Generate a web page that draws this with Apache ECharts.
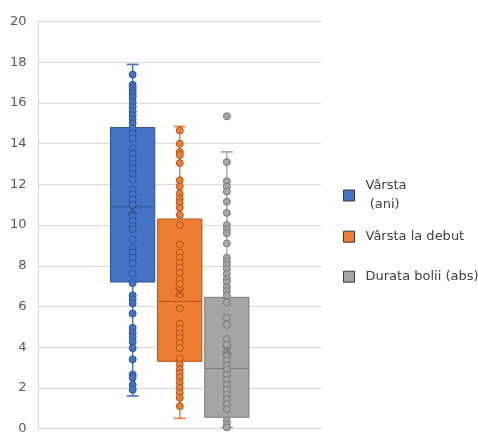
<!DOCTYPE html>
<html><head><meta charset="utf-8">
<script src="https://cdn.jsdelivr.net/npm/echarts@6/dist/echarts.min.js"></script>
<style>html,body{margin:0;padding:0;background:#fff}#c{width:478px;height:435px}</style>
</head><body><div id="c"></div>
<script>
// ---- data ----
const seriesNames = ['Vârsta\n (ani)', 'Vârsta la debut', 'Durata bolii (abs)'];
const yTicks = [0, 2, 4, 6, 8, 10, 12, 14, 16, 18, 20];

const pointsVarsta = [17.4, 16.9, 16.75, 16.6, 16.45, 16.3, 16.05, 15.8, 15.6, 15.4, 15.2, 15.0,
  14.75, 14.5, 14.25, 13.75, 13.5, 13.25, 13.0, 12.8, 12.5, 12.25, 11.75, 11.5, 11.25, 11.0,
  10.45, 10.2, 9.95, 9.8, 9.3, 8.9, 8.65, 8.4, 8.1, 7.6,
  7.15, 6.55, 6.35, 6.15, 5.65, 4.95, 4.7, 4.5, 4.25, 3.95, 3.4, 2.65, 2.5, 2.15, 1.9];
const pointsDebut = [14.65, 14.0, 13.6, 13.45, 13.05, 12.2, 11.9, 11.55, 11.3, 11.1, 10.85, 10.5,
  10.0, 9.05, 8.65, 8.4, 8.15, 7.9, 7.65, 7.35, 7.1, 6.6, 5.9, 5.15, 4.9, 4.65, 4.45, 4.2, 3.95, 3.45,
  3.15, 2.9, 2.7, 2.5, 2.25, 2.0, 1.75, 1.5, 1.1];
const pointsDurata = [15.35, 13.1, 12.15, 11.9, 11.65, 11.15, 10.6, 10.0, 9.8, 9.6, 9.1, 8.4, 8.2,
  8.05, 7.85, 7.6, 7.35, 7.2, 6.95, 6.75, 6.55,
  6.2, 5.45, 5.1, 4.4, 4.1, 3.8, 3.55, 3.35, 3.1, 2.9, 2.65, 2.4, 2.15, 1.9, 1.65, 1.45, 1.2, 0.95,
  0.4, 0.2, 0.05];

const boxMin    = [1.6, 0.5, 0.05];
const boxQ1     = [7.2, 3.3, 0.55];
const boxMedian = [10.9, 6.25, 2.95];
const boxQ3     = [14.8, 10.3, 6.45];
const boxMax    = [17.9, 14.85, 13.6];
const boxMean   = [10.75, 6.7, 3.85];

// ---- styles ----
const colors = ['#4472c4', '#ed7d31', '#a5a5a5'];
const darks  = ['#2f5597', '#b4561c', '#7b7b7b'];
const BOX_W = 0.94;   // in category units
const CAP_W = 12;     // px
const FIRST_POS = 2;  // category index of first box on hidden x axis

const allPoints = [pointsVarsta, pointsDebut, pointsDurata];

const boxData = seriesNames.map((n, i) => [FIRST_POS + i, boxMin[i], boxQ1[i], boxMedian[i], boxQ3[i], boxMax[i], boxMean[i]]);

const chart = echarts.init(document.getElementById('c'), null, {renderer: 'canvas'});

const scatterSeries = allPoints.map((pts, i) => ({
  name: seriesNames[i],
  type: 'scatter',
  z: 5,
  symbol: 'circle',
  symbolSize: 7,
  itemStyle: {color: colors[i], borderColor: darks[i], borderWidth: 1, opacity: 1},
  emphasis: {disabled: true},
  data: pts.map(v => [FIRST_POS + i, v])
}));

const legendBase = {
  orient: 'vertical', left: 343, padding: 0, icon: 'rect',
  itemWidth: 11, itemHeight: 11, selectedMode: false,
  itemStyle: {borderColor: '#3a3a3a', borderWidth: 1},
  textStyle: {fontFamily: 'DejaVu Sans', fontSize: 13, color: '#404040', lineHeight: 19, padding: [0, 0, 0, 6]}
};

chart.setOption({
  animation: false,
  grid: {left: 38.5, right: 157, top: 21.7, bottom: 2.3, containLabel: false},
  legend: [
    Object.assign({}, legendBase, {top: 176.5, data: [{name: seriesNames[0], itemStyle: {color: colors[0]}}]}),
    Object.assign({}, legendBase, {top: 227.2, data: [{name: seriesNames[1], itemStyle: {color: colors[1]}}]}),
    Object.assign({}, legendBase, {top: 267.2, data: [{name: seriesNames[2], itemStyle: {color: colors[2]}}]})
  ],
  xAxis: {
    type: 'value', min: 0, max: 6,
    axisLine: {show: true, onZero: false, lineStyle: {color: '#d9d9d9'}},
    axisTick: {show: false}, axisLabel: {show: false}, splitLine: {show: false}
  },
  yAxis: {
    type: 'value', min: yTicks[0], max: yTicks[yTicks.length - 1], interval: yTicks[1] - yTicks[0],
    axisLine: {show: true, lineStyle: {color: '#d9d9d9'}},
    axisTick: {show: false},
    axisLabel: {fontFamily: 'DejaVu Sans', fontSize: 13, color: '#595959', margin: 12},
    splitLine: {lineStyle: {color: '#d9d9d9', width: 1}}
  },
  series: [
    {
      type: 'custom', z: 2, silent: true,
      data: boxData,
      renderItem: function (params, api) {
        const i = params.dataIndex;
        const x = api.value(0);
        const pMax = api.coord([x, api.value(5)]);
        const pQ3 = api.coord([x, api.value(4)]);
        const pMed = api.coord([x, api.value(3)]);
        const pQ1 = api.coord([x, api.value(2)]);
        const pMin = api.coord([x, api.value(1)]);
        const w = api.size([BOX_W, 0])[0];
        const cx = pMax[0];
        const col = colors[i], dk = darks[i];
        return {
          type: 'group',
          children: [
            {type: 'line', shape: {x1: cx, y1: pMax[1], x2: cx, y2: pMin[1]}, style: {stroke: col, lineWidth: 1.4}},
            {type: 'line', shape: {x1: cx - CAP_W / 2, y1: pMax[1], x2: cx + CAP_W / 2, y2: pMax[1]}, style: {stroke: col, lineWidth: 1.6}},
            {type: 'line', shape: {x1: cx - CAP_W / 2, y1: pMin[1], x2: cx + CAP_W / 2, y2: pMin[1]}, style: {stroke: col, lineWidth: 1.6}},
            {type: 'rect', shape: {x: cx - w / 2, y: pQ3[1], width: w, height: pQ1[1] - pQ3[1]}, style: {fill: col, stroke: dk, lineWidth: 1}},
            {type: 'line', shape: {x1: cx - w / 2, y1: pMed[1], x2: cx + w / 2, y2: pMed[1]}, style: {stroke: dk, lineWidth: 1}}
          ]
        };
      }
    },
    ...scatterSeries,
    {
      type: 'custom', z: 6, silent: true,
      data: boxData,
      renderItem: function (params, api) {
        const i = params.dataIndex;
        const p = api.coord([api.value(0), api.value(6)]);
        const s = 4.5;
        return {
          type: 'group',
          children: [
            {type: 'line', shape: {x1: p[0] - s, y1: p[1] - s, x2: p[0] + s, y2: p[1] + s}, style: {stroke: darks[i], lineWidth: 1.5}},
            {type: 'line', shape: {x1: p[0] - s, y1: p[1] + s, x2: p[0] + s, y2: p[1] - s}, style: {stroke: darks[i], lineWidth: 1.5}}
          ]
        };
      }
    }
  ]
});
</script>
</body></html>
